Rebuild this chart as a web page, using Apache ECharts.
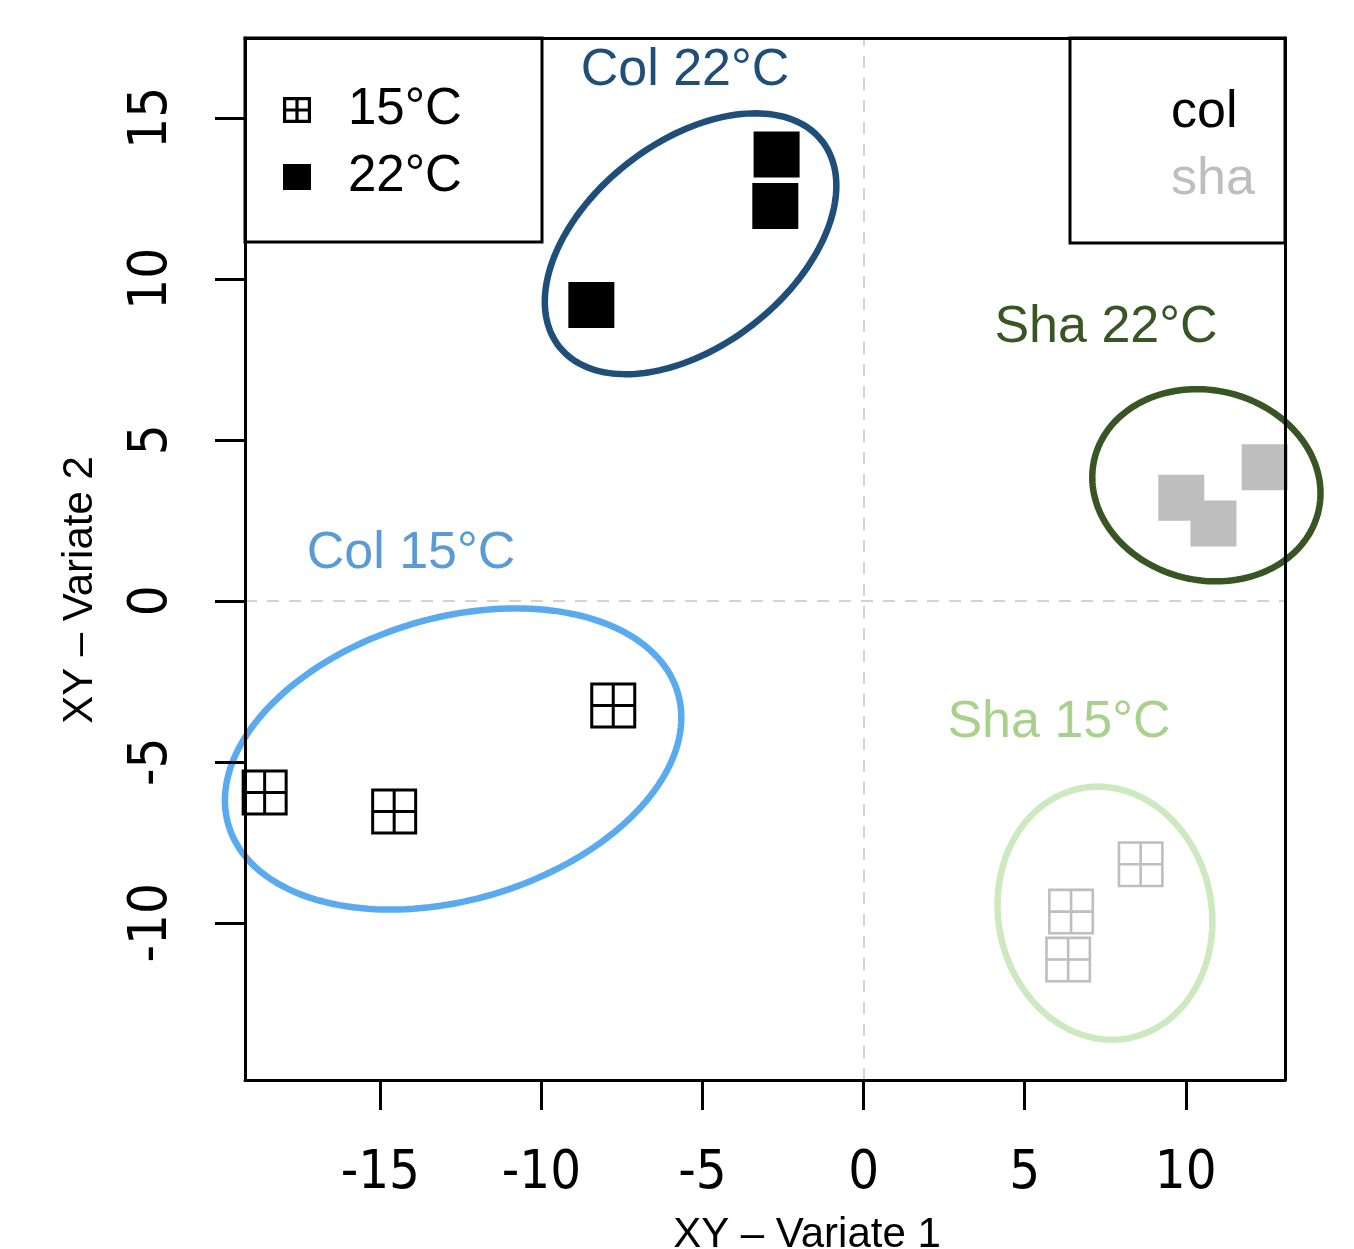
<!DOCTYPE html>
<html>
<head>
<meta charset="utf-8">
<script src="https://cdn.jsdelivr.net/npm/echarts@6/dist/echarts.min.js"></script>
<style>
  html, body { margin: 0; padding: 0; background: #fff; }
  #chart { width: 1354px; height: 1249px; }
</style>
</head>
<body>
<div id="chart"></div>
<script>
// Sample scores on the first two XY variates, per cultivar and temperature
const col15X = [-7.77, -14.57, -18.59];
const col15Y = [-3.25, -6.54, -5.95];
const col22X = [-2.70, -2.74, -8.45];
const col22Y = [13.86, 12.26, 9.19];
const sha15X = [8.60, 6.44, 6.35];
const sha15Y = [-8.18, -9.65, -11.14];
const sha22X = [12.45, 9.86, 10.86];
const sha22Y = [4.15, 3.20, 2.40];

// Group ellipses: centre, semi-axes (variate units) and rotation in degrees
const groupNames = ['Col 22°C', 'Sha 22°C', 'Col 15°C', 'Sha 15°C'];
const ellipseCx = [-5.37, 10.64, -12.74, 7.49];
const ellipseCy = [11.09, 3.59, -4.91, -9.70];
const ellipseA = [5.18, 3.57, 7.27, 3.95];
const ellipseB = [3.17, 2.95, 4.38, 3.31];
const ellipseAngle = [38, -12.9, 16.4, -79.2];

// Axis ticks
const xTicks = [-15, -10, -5, 0, 5, 10];
const yTicks = [-10, -5, 0, 5, 10, 15];

// Legend entries
const tempNames = ['15°C', '22°C'];
const cultivarNames = ['col', 'sha'];

// ---- styling ----
const COL_COLOR = '#000000';
const SHA_COLOR = '#bebebe';
const ellipseColors = ['#1f4e79', '#375623', '#5aaaf0', '#cde9c0'];
const groupLabelColors = ['#1f4e79', '#375623', '#5b9bd5', '#a9d18e'];
const groupLabelPos = [[685, 71], [1106, 328], [411, 554], [1059, 723]];
const tickFont = '"Liberation Sans Narrow", "DejaVu Sans Condensed", "Liberation Sans", sans-serif';
const textFont = '"Liberation Sans", Arial, sans-serif';

// open square with a cross (outline drawn as a filled shape with four holes)
const crossBoxCol = 'path://M0,0H46V46H0Z M3,3V21.5H21.5V3Z M24.5,3V21.5H43V3Z M3,24.5V43H21.5V24.5Z M24.5,24.5V43H43V24.5Z';
const crossBoxSha = 'path://M0,0H46V46H0Z M2.6,2.6V21.7H21.7V2.6Z M24.3,2.6V21.7H43.4V2.6Z M2.6,24.3V43.4H21.7V24.3Z M24.3,24.3V43.4H43.4V24.3Z';
const crossBoxKey = 'path://M0,0H28V26H0Z M3.2,3.2V11.4H12.4V3.2Z M15.6,3.2V11.4H24.8V3.2Z M3.2,14.6V22.8H12.4V14.6Z M15.6,14.6V22.8H24.8V14.6Z';

function points(xs, ys, color, symbol) {
  return xs.map((x, i) => {
    const item = { value: [x, ys[i]], itemStyle: { color: color } };
    if (symbol) item.symbol = symbol;
    return item;
  });
}

const X_MIN = -19.2, X_MAX = 13.08, Y_MIN = -14.88, Y_MAX = 17.48;
const frameLine = { color: '#000', width: 3 };

const chart = echarts.init(document.getElementById('chart'), null, { renderer: 'canvas' });

chart.setOption({
  animation: false,
  backgroundColor: '#fff',
  grid: { left: 245, right: 69, top: 38, bottom: 169, containLabel: false, outerBoundsMode: 'none' },
  xAxis: [{
    type: 'value', min: X_MIN, max: X_MAX, position: 'bottom', z: 10,
    axisLine: { show: true, onZero: false, lineStyle: frameLine },
    axisTick: { show: true, length: 30, lineStyle: frameLine, customValues: xTicks },
    axisLabel: { customValues: xTicks, margin: 67, fontSize: 54, fontFamily: tickFont, color: '#000', hideOverlap: false },
    splitLine: { show: false },
    name: 'XY – Variate 1', nameLocation: 'middle', nameGap: 134,
    nameTextStyle: { fontSize: 42, fontFamily: textFont, color: '#000', padding: [0, 0, 0, 84] }
  }, {
    type: 'value', min: X_MIN, max: X_MAX, position: 'top', z: 10,
    axisLine: { show: true, onZero: false, lineStyle: frameLine },
    axisTick: { show: false }, axisLabel: { show: false }, splitLine: { show: false }
  }],
  yAxis: [{
    type: 'value', min: Y_MIN, max: Y_MAX, position: 'left', z: 10,
    axisLine: { show: true, onZero: false, lineStyle: frameLine },
    axisTick: { show: true, length: 30, lineStyle: frameLine, customValues: yTicks },
    axisLabel: { customValues: yTicks, rotate: 90, margin: 66, fontSize: 54, fontFamily: tickFont, color: '#000', hideOverlap: false },
    splitLine: { show: false },
    name: 'XY – Variate 2', nameLocation: 'middle', nameGap: 144, nameRotate: 90,
    nameTextStyle: { fontSize: 42, fontFamily: textFont, color: '#000', padding: [0, 62, 0, 0] }
  }, {
    type: 'value', min: Y_MIN, max: Y_MAX, position: 'right', z: 10,
    axisLine: { show: true, onZero: false, lineStyle: frameLine },
    axisTick: { show: false }, axisLabel: { show: false }, splitLine: { show: false }
  }],
  legend: [{
    data: [{ name: tempNames[0], icon: crossBoxKey }, { name: tempNames[1], icon: 'rect' }],
    orient: 'vertical', left: 283, top: 82, padding: 0,
    itemWidth: 28, itemHeight: 26, itemGap: 11, selectedMode: false, symbolKeepAspect: false,
    itemStyle: { color: '#000' },
    textStyle: { fontSize: 51, fontFamily: textFont, color: '#000', lineHeight: 56, padding: [0, 0, 0, 32] }
  }],
  graphic: [
    { type: 'rect', z: 20, shape: { x: 245, y: 38, width: 297, height: 204 },
      style: { fill: 'none', stroke: '#000', lineWidth: 3 } },
    { type: 'rect', z: 20, shape: { x: 1070, y: 38, width: 215, height: 205 },
      style: { fill: 'none', stroke: '#000', lineWidth: 3 } },
    { type: 'text', z: 20, x: 1171, y: 113,
      style: { text: cultivarNames[0], fill: COL_COLOR, fontSize: 52, fontFamily: textFont, align: 'left', verticalAlign: 'middle' } },
    { type: 'text', z: 20, x: 1171, y: 180,
      style: { text: cultivarNames[1], fill: SHA_COLOR, fontSize: 52, fontFamily: textFont, align: 'left', verticalAlign: 'middle' } }
  ].concat(groupNames.map((name, i) => ({
    type: 'text', z: 20, x: groupLabelPos[i][0], y: groupLabelPos[i][1],
    style: { text: name, fill: groupLabelColors[i], fontSize: 52, fontFamily: textFont, align: 'center', verticalAlign: 'middle' }
  }))),
  series: [
    {
      // reference lines through the origin
      type: 'scatter', name: 'origin', data: [], silent: true, z: 1,
      markLine: {
        silent: true, symbol: 'none', animation: false,
        label: { show: false },
        lineStyle: { color: '#d3d3d3', type: [12, 10], width: 2 },
        data: [{ xAxis: 0 }, { yAxis: 0 }]
      }
    },
    {
      type: 'scatter', name: tempNames[0], symbol: crossBoxCol, symbolSize: 46, z: 4,
      itemStyle: { color: COL_COLOR, opacity: 1 },
      data: points(col15X, col15Y, COL_COLOR).concat(points(sha15X, sha15Y, SHA_COLOR, crossBoxSha))
    },
    {
      type: 'scatter', name: tempNames[1], symbol: 'rect', symbolSize: 46, z: 4,
      itemStyle: { color: COL_COLOR, opacity: 1 },
      data: points(col22X, col22Y, COL_COLOR).concat(points(sha22X, sha22Y, SHA_COLOR))
    },
    {
      type: 'custom', name: 'ellipses', coordinateSystem: 'cartesian2d', silent: true, clip: false, z: 5,
      encode: { x: 0, y: 1 },
      data: ellipseCx.map((cx, i) => [cx, ellipseCy[i], ellipseA[i], ellipseB[i], ellipseAngle[i]]),
      renderItem: function (params, api) {
        const cx = api.value(0), cy = api.value(1), a = api.value(2), b = api.value(3);
        const ang = api.value(4) * Math.PI / 180;
        const pts = [];
        const n = 180;
        for (let k = 0; k < n; k++) {
          const t = k / n * 2 * Math.PI;
          const dx = a * Math.cos(t), dy = b * Math.sin(t);
          pts.push(api.coord([cx + dx * Math.cos(ang) - dy * Math.sin(ang),
                              cy + dx * Math.sin(ang) + dy * Math.cos(ang)]));
        }
        return {
          type: 'polygon', shape: { points: pts },
          style: { fill: 'none', stroke: ellipseColors[params.dataIndex], lineWidth: 6.5 }
        };
      }
    }
  ]
});
</script>
</body>
</html>
